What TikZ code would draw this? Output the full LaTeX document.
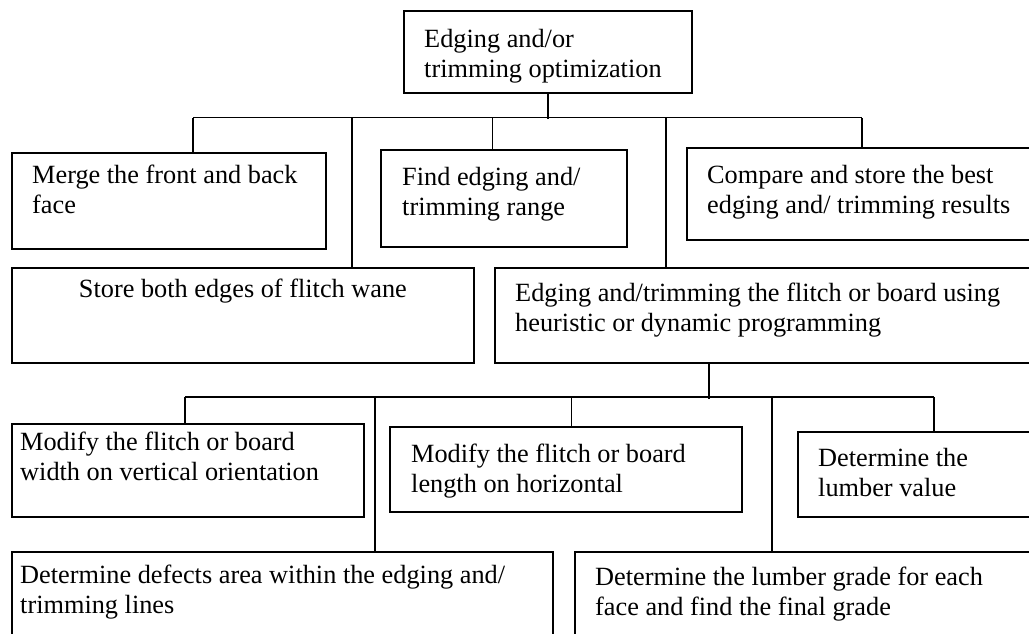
\documentclass[tikz,border=0pt]{standalone}
\usepackage{fontspec}
\setmainfont{Liberation Serif}
% two text lines whose reference point is the first baseline
\newcommand{\twoln}[2]{\vtop{\baselineskip=30pt\hbox{#1}\hbox{#2}}}
\begin{document}
\begin{tikzpicture}[x=1pt,y=-1pt,
  box/.style={draw, line width=1.8pt, rectangle, inner sep=0pt, anchor=north west},
  lbl/.style={inner sep=0pt, anchor=base west, font=\fontsize{26.3}{30}\selectfont},
  link/.style={line width=1.8pt}]
\useasboundingbox (0,0) rectangle (1029,633);
\clip (0,0) rectangle (1029,633);
\fill[white] (0,0) rectangle (1029,633);

% boxes
\node[box, minimum width=288, minimum height=82]  (top)     at (403,10)  {};
\node[box, minimum width=314, minimum height=96]  (merge)   at (11,152)  {};
\node[box, minimum width=246, minimum height=97]  (find)    at (380,149) {};
\node[box, minimum width=360, minimum height=92]  (compare) at (686,147) {};
\node[box, minimum width=462, minimum height=95]  (store)   at (11,267)  {};
\node[box, minimum width=550, minimum height=95]  (edging)  at (494,267) {};
\node[box, minimum width=352, minimum height=93]  (modw)    at (11,423)  {};
\node[box, minimum width=352, minimum height=85]  (modl)    at (389,426) {};
\node[box, minimum width=250, minimum height=85]  (value)   at (797,431) {};
\node[box, minimum width=541, minimum height=110] (defects) at (11,551)  {};
\node[box, minimum width=470, minimum height=110] (grade)   at (574,551) {};

% texts
\node[lbl] (topT) at ([shift={(21,37)}]top.north west) {\twoln{Edging and/or}{trimming optimization}};
\node[lbl] (mergeT) at ([shift={(21,31)}]merge.north west) {\twoln{Merge the front and back}{face}};
\node[lbl] (findT) at ([shift={(22,36)}]find.north west) {\twoln{Find edging and/}{trimming range}};
\node[lbl] (compareT) at ([shift={(21,36)}]compare.north west) {\twoln{Compare and store the best}{edging and/ trimming results}};
\node[lbl, anchor=base] (storeT) at ([shift={(0,30)}]store.north) {Store both edges of flitch wane};
\node[lbl] (edgingT) at ([shift={(21,34)}]edging.north west) {\twoln{Edging and/trimming the flitch or board using}{heuristic or dynamic programming}};
\node[lbl] (modwT) at ([shift={(9,27)}]modw.north west) {\twoln{Modify the flitch or board}{width on vertical orientation}};
\node[lbl] (modlT) at ([shift={(22,36)}]modl.north west) {\twoln{Modify the flitch or board}{length on horizontal}};
\node[lbl] (valueT) at ([shift={(21,35)}]value.north west) {\twoln{Determine the}{lumber value}};
\node[lbl] (defectsT) at ([shift={(9,32)}]defects.north west) {\twoln{Determine defects area within the edging and/}{trimming lines}};
\node[lbl] (gradeT) at ([shift={(21,34)}]grade.north west) {\twoln{Determine the lumber grade for each}{face and find the final grade}};

% upper tree
\coordinate (j1) at ([shift={(0,25.5)}]top.south);
\coordinate (busL) at (193,117.5);
\coordinate (busR) at (862,117.5);
\draw[link] (top.south) -- (j1);
\draw[link] (busL) -- (busR);
\draw[link] ([xshift=182]merge.north west) |- (busL);
\draw[link] ([xshift=341]store.north west) |- (busL);
\draw[link] ([xshift=112.5]find.north west) |- (busL);
\draw[link] ([xshift=172]edging.north west) |- (busR);
\draw[link] ([xshift=176]compare.north west) |- (busR);

% lower tree
\coordinate (j2) at ([shift={(215,35)}]edging.south west);
\coordinate (bus2L) at (185,397);
\coordinate (bus2R) at (934,397);
\draw[link] ([xshift=215]edging.south west) -- (j2);
\draw[link] (bus2L) -- (bus2R);
\draw[link] ([xshift=174]modw.north west) |- (bus2L);
\draw[link] ([xshift=364]defects.north west) |- (bus2L);
\draw[link] ([xshift=182.5]modl.north west) |- (bus2L);
\draw[link] ([xshift=198]grade.north west) |- (bus2R);
\draw[link] ([xshift=137]value.north west) |- (bus2R);
\end{tikzpicture}
\end{document}
